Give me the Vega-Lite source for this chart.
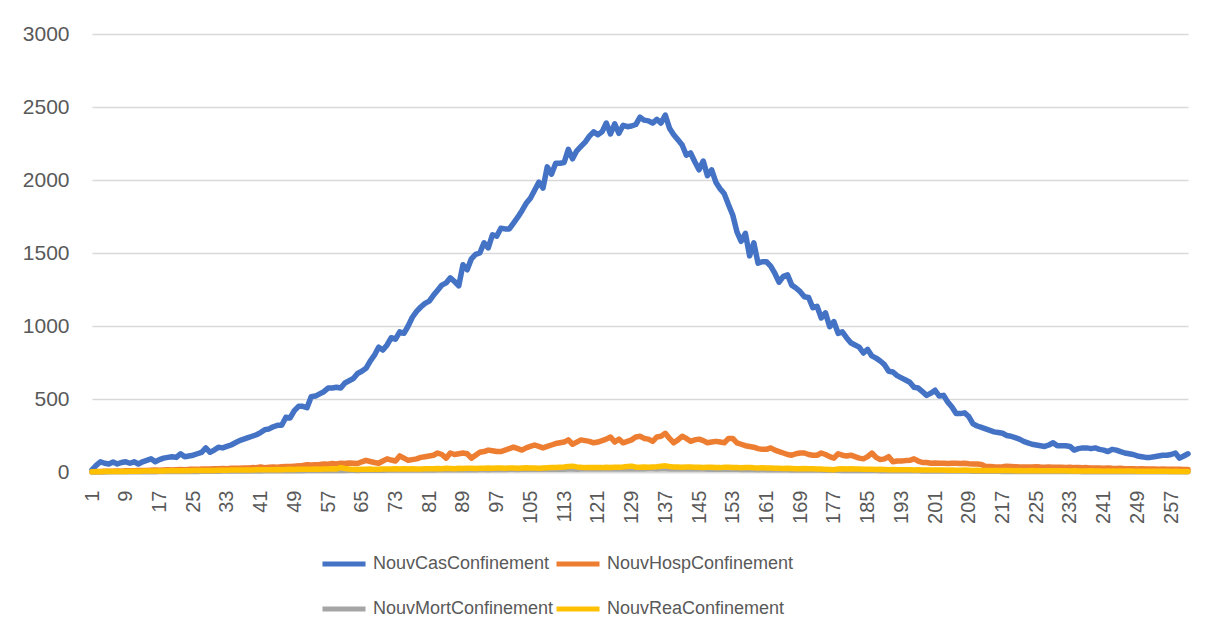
{
"$schema": "https://vega.github.io/schema/vega-lite/v6.json",
"width": 1096,
"height": 438,
"autosize": "none",
"padding": {"left": 92, "top": 34, "right": 27, "bottom": 171},
"background": "white",
"data": {"values": [
{"jour":1,"Cas":14,"Hosp":2,"Mort":0,"Rea":1},
{"jour":2,"Cas":45,"Hosp":3,"Mort":0,"Rea":2},
{"jour":3,"Cas":70,"Hosp":4,"Mort":1,"Rea":2},
{"jour":4,"Cas":60,"Hosp":5,"Mort":0,"Rea":3},
{"jour":5,"Cas":55,"Hosp":5,"Mort":1,"Rea":3},
{"jour":6,"Cas":68,"Hosp":6,"Mort":1,"Rea":3},
{"jour":7,"Cas":55,"Hosp":7,"Mort":1,"Rea":4},
{"jour":8,"Cas":65,"Hosp":6,"Mort":1,"Rea":4},
{"jour":9,"Cas":70,"Hosp":8,"Mort":2,"Rea":4},
{"jour":10,"Cas":60,"Hosp":9,"Mort":1,"Rea":5},
{"jour":11,"Cas":70,"Hosp":9,"Mort":2,"Rea":5},
{"jour":12,"Cas":55,"Hosp":10,"Mort":2,"Rea":5},
{"jour":13,"Cas":70,"Hosp":11,"Mort":2,"Rea":6},
{"jour":14,"Cas":80,"Hosp":10,"Mort":2,"Rea":6},
{"jour":15,"Cas":90,"Hosp":12,"Mort":3,"Rea":6},
{"jour":16,"Cas":70,"Hosp":13,"Mort":2,"Rea":7},
{"jour":17,"Cas":85,"Hosp":12,"Mort":3,"Rea":7},
{"jour":18,"Cas":95,"Hosp":14,"Mort":3,"Rea":7},
{"jour":19,"Cas":100,"Hosp":15,"Mort":3,"Rea":8},
{"jour":20,"Cas":105,"Hosp":14,"Mort":4,"Rea":8},
{"jour":21,"Cas":100,"Hosp":16,"Mort":3,"Rea":8},
{"jour":22,"Cas":125,"Hosp":17,"Mort":4,"Rea":9},
{"jour":23,"Cas":105,"Hosp":16,"Mort":4,"Rea":9},
{"jour":24,"Cas":110,"Hosp":18,"Mort":4,"Rea":9},
{"jour":25,"Cas":115,"Hosp":19,"Mort":5,"Rea":10},
{"jour":26,"Cas":125,"Hosp":18,"Mort":4,"Rea":10},
{"jour":27,"Cas":135,"Hosp":20,"Mort":5,"Rea":10},
{"jour":28,"Cas":165,"Hosp":21,"Mort":5,"Rea":11},
{"jour":29,"Cas":135,"Hosp":20,"Mort":5,"Rea":11},
{"jour":30,"Cas":150,"Hosp":22,"Mort":6,"Rea":11},
{"jour":31,"Cas":170,"Hosp":22,"Mort":5,"Rea":12},
{"jour":32,"Cas":165,"Hosp":24,"Mort":6,"Rea":12},
{"jour":33,"Cas":175,"Hosp":23,"Mort":6,"Rea":12},
{"jour":34,"Cas":185,"Hosp":25,"Mort":6,"Rea":13},
{"jour":35,"Cas":200,"Hosp":26,"Mort":7,"Rea":13},
{"jour":36,"Cas":215,"Hosp":25,"Mort":6,"Rea":13},
{"jour":37,"Cas":225,"Hosp":27,"Mort":7,"Rea":14},
{"jour":38,"Cas":235,"Hosp":28,"Mort":7,"Rea":14},
{"jour":39,"Cas":245,"Hosp":30,"Mort":7,"Rea":14},
{"jour":40,"Cas":255,"Hosp":29,"Mort":8,"Rea":15},
{"jour":41,"Cas":270,"Hosp":35,"Mort":7,"Rea":15},
{"jour":42,"Cas":290,"Hosp":30,"Mort":8,"Rea":16},
{"jour":43,"Cas":295,"Hosp":32,"Mort":8,"Rea":15},
{"jour":44,"Cas":310,"Hosp":34,"Mort":8,"Rea":16},
{"jour":45,"Cas":320,"Hosp":33,"Mort":9,"Rea":17},
{"jour":46,"Cas":320,"Hosp":36,"Mort":8,"Rea":16},
{"jour":47,"Cas":375,"Hosp":38,"Mort":9,"Rea":17},
{"jour":48,"Cas":370,"Hosp":37,"Mort":9,"Rea":18},
{"jour":49,"Cas":420,"Hosp":40,"Mort":9,"Rea":17},
{"jour":50,"Cas":450,"Hosp":42,"Mort":10,"Rea":18},
{"jour":51,"Cas":450,"Hosp":45,"Mort":9,"Rea":19},
{"jour":52,"Cas":440,"Hosp":50,"Mort":10,"Rea":18},
{"jour":53,"Cas":515,"Hosp":48,"Mort":10,"Rea":19},
{"jour":54,"Cas":520,"Hosp":50,"Mort":10,"Rea":20},
{"jour":55,"Cas":535,"Hosp":52,"Mort":11,"Rea":19},
{"jour":56,"Cas":550,"Hosp":55,"Mort":10,"Rea":21},
{"jour":57,"Cas":575,"Hosp":53,"Mort":11,"Rea":20},
{"jour":58,"Cas":575,"Hosp":58,"Mort":11,"Rea":22},
{"jour":59,"Cas":580,"Hosp":55,"Mort":11,"Rea":21},
{"jour":60,"Cas":575,"Hosp":60,"Mort":12,"Rea":30},
{"jour":61,"Cas":610,"Hosp":58,"Mort":11,"Rea":24},
{"jour":62,"Cas":625,"Hosp":62,"Mort":12,"Rea":20},
{"jour":63,"Cas":640,"Hosp":60,"Mort":12,"Rea":18},
{"jour":64,"Cas":675,"Hosp":58,"Mort":11,"Rea":17},
{"jour":65,"Cas":690,"Hosp":70,"Mort":12,"Rea":18},
{"jour":66,"Cas":710,"Hosp":80,"Mort":12,"Rea":19},
{"jour":67,"Cas":760,"Hosp":72,"Mort":13,"Rea":20},
{"jour":68,"Cas":800,"Hosp":65,"Mort":12,"Rea":18},
{"jour":69,"Cas":855,"Hosp":60,"Mort":13,"Rea":19},
{"jour":70,"Cas":835,"Hosp":75,"Mort":12,"Rea":20},
{"jour":71,"Cas":870,"Hosp":90,"Mort":13,"Rea":21},
{"jour":72,"Cas":920,"Hosp":82,"Mort":13,"Rea":20},
{"jour":73,"Cas":910,"Hosp":75,"Mort":13,"Rea":22},
{"jour":74,"Cas":960,"Hosp":110,"Mort":14,"Rea":21},
{"jour":75,"Cas":950,"Hosp":95,"Mort":13,"Rea":23},
{"jour":76,"Cas":1000,"Hosp":80,"Mort":14,"Rea":20},
{"jour":77,"Cas":1060,"Hosp":85,"Mort":14,"Rea":22},
{"jour":78,"Cas":1100,"Hosp":90,"Mort":14,"Rea":21},
{"jour":79,"Cas":1130,"Hosp":100,"Mort":15,"Rea":20},
{"jour":80,"Cas":1155,"Hosp":105,"Mort":14,"Rea":22},
{"jour":81,"Cas":1170,"Hosp":110,"Mort":15,"Rea":22},
{"jour":82,"Cas":1210,"Hosp":115,"Mort":14,"Rea":23},
{"jour":83,"Cas":1245,"Hosp":130,"Mort":15,"Rea":24},
{"jour":84,"Cas":1280,"Hosp":120,"Mort":15,"Rea":22},
{"jour":85,"Cas":1295,"Hosp":95,"Mort":16,"Rea":25},
{"jour":86,"Cas":1330,"Hosp":130,"Mort":15,"Rea":24},
{"jour":87,"Cas":1305,"Hosp":120,"Mort":15,"Rea":23},
{"jour":88,"Cas":1275,"Hosp":125,"Mort":16,"Rea":25},
{"jour":89,"Cas":1420,"Hosp":130,"Mort":16,"Rea":24},
{"jour":90,"Cas":1385,"Hosp":125,"Mort":16,"Rea":26},
{"jour":91,"Cas":1460,"Hosp":95,"Mort":17,"Rea":25},
{"jour":92,"Cas":1490,"Hosp":115,"Mort":16,"Rea":24},
{"jour":93,"Cas":1500,"Hosp":135,"Mort":17,"Rea":26},
{"jour":94,"Cas":1570,"Hosp":140,"Mort":17,"Rea":25},
{"jour":95,"Cas":1535,"Hosp":150,"Mort":16,"Rea":27},
{"jour":96,"Cas":1625,"Hosp":145,"Mort":17,"Rea":26},
{"jour":97,"Cas":1615,"Hosp":140,"Mort":17,"Rea":28},
{"jour":98,"Cas":1670,"Hosp":140,"Mort":18,"Rea":27},
{"jour":99,"Cas":1665,"Hosp":150,"Mort":17,"Rea":26},
{"jour":100,"Cas":1665,"Hosp":160,"Mort":18,"Rea":28},
{"jour":101,"Cas":1705,"Hosp":170,"Mort":18,"Rea":27},
{"jour":102,"Cas":1745,"Hosp":160,"Mort":17,"Rea":26},
{"jour":103,"Cas":1790,"Hosp":150,"Mort":18,"Rea":28},
{"jour":104,"Cas":1840,"Hosp":165,"Mort":18,"Rea":29},
{"jour":105,"Cas":1875,"Hosp":175,"Mort":19,"Rea":27},
{"jour":106,"Cas":1930,"Hosp":185,"Mort":18,"Rea":28},
{"jour":107,"Cas":1985,"Hosp":175,"Mort":19,"Rea":26},
{"jour":108,"Cas":1945,"Hosp":165,"Mort":19,"Rea":28},
{"jour":109,"Cas":2090,"Hosp":175,"Mort":18,"Rea":29},
{"jour":110,"Cas":2040,"Hosp":185,"Mort":19,"Rea":30},
{"jour":111,"Cas":2115,"Hosp":195,"Mort":19,"Rea":31},
{"jour":112,"Cas":2115,"Hosp":200,"Mort":20,"Rea":33},
{"jour":113,"Cas":2120,"Hosp":205,"Mort":19,"Rea":35},
{"jour":114,"Cas":2210,"Hosp":220,"Mort":20,"Rea":38},
{"jour":115,"Cas":2145,"Hosp":190,"Mort":20,"Rea":40},
{"jour":116,"Cas":2200,"Hosp":205,"Mort":19,"Rea":35},
{"jour":117,"Cas":2230,"Hosp":220,"Mort":20,"Rea":32},
{"jour":118,"Cas":2260,"Hosp":215,"Mort":20,"Rea":30},
{"jour":119,"Cas":2300,"Hosp":210,"Mort":21,"Rea":31},
{"jour":120,"Cas":2330,"Hosp":200,"Mort":20,"Rea":30},
{"jour":121,"Cas":2310,"Hosp":205,"Mort":21,"Rea":31},
{"jour":122,"Cas":2330,"Hosp":215,"Mort":20,"Rea":30},
{"jour":123,"Cas":2390,"Hosp":225,"Mort":21,"Rea":32},
{"jour":124,"Cas":2315,"Hosp":240,"Mort":21,"Rea":31},
{"jour":125,"Cas":2385,"Hosp":205,"Mort":20,"Rea":33},
{"jour":126,"Cas":2320,"Hosp":225,"Mort":21,"Rea":32},
{"jour":127,"Cas":2375,"Hosp":200,"Mort":21,"Rea":34},
{"jour":128,"Cas":2365,"Hosp":210,"Mort":22,"Rea":38},
{"jour":129,"Cas":2370,"Hosp":220,"Mort":21,"Rea":40},
{"jour":130,"Cas":2380,"Hosp":240,"Mort":21,"Rea":33},
{"jour":131,"Cas":2430,"Hosp":245,"Mort":22,"Rea":32},
{"jour":132,"Cas":2410,"Hosp":230,"Mort":21,"Rea":34},
{"jour":133,"Cas":2405,"Hosp":225,"Mort":22,"Rea":33},
{"jour":134,"Cas":2390,"Hosp":210,"Mort":22,"Rea":35},
{"jour":135,"Cas":2415,"Hosp":240,"Mort":21,"Rea":36},
{"jour":136,"Cas":2390,"Hosp":245,"Mort":22,"Rea":40},
{"jour":137,"Cas":2445,"Hosp":265,"Mort":22,"Rea":42},
{"jour":138,"Cas":2355,"Hosp":230,"Mort":21,"Rea":38},
{"jour":139,"Cas":2310,"Hosp":200,"Mort":22,"Rea":35},
{"jour":140,"Cas":2275,"Hosp":220,"Mort":21,"Rea":34},
{"jour":141,"Cas":2240,"Hosp":245,"Mort":21,"Rea":33},
{"jour":142,"Cas":2170,"Hosp":230,"Mort":21,"Rea":35},
{"jour":143,"Cas":2185,"Hosp":210,"Mort":20,"Rea":34},
{"jour":144,"Cas":2125,"Hosp":220,"Mort":21,"Rea":33},
{"jour":145,"Cas":2070,"Hosp":225,"Mort":20,"Rea":32},
{"jour":146,"Cas":2130,"Hosp":215,"Mort":20,"Rea":31},
{"jour":147,"Cas":2030,"Hosp":200,"Mort":19,"Rea":32},
{"jour":148,"Cas":2070,"Hosp":205,"Mort":20,"Rea":33},
{"jour":149,"Cas":1985,"Hosp":210,"Mort":19,"Rea":31},
{"jour":150,"Cas":1940,"Hosp":205,"Mort":19,"Rea":30},
{"jour":151,"Cas":1905,"Hosp":200,"Mort":18,"Rea":32},
{"jour":152,"Cas":1830,"Hosp":230,"Mort":19,"Rea":33},
{"jour":153,"Cas":1760,"Hosp":230,"Mort":18,"Rea":31},
{"jour":154,"Cas":1645,"Hosp":200,"Mort":18,"Rea":30},
{"jour":155,"Cas":1580,"Hosp":190,"Mort":17,"Rea":29},
{"jour":156,"Cas":1635,"Hosp":180,"Mort":18,"Rea":30},
{"jour":157,"Cas":1480,"Hosp":175,"Mort":17,"Rea":31},
{"jour":158,"Cas":1570,"Hosp":170,"Mort":17,"Rea":29},
{"jour":159,"Cas":1430,"Hosp":160,"Mort":16,"Rea":28},
{"jour":160,"Cas":1440,"Hosp":155,"Mort":17,"Rea":29},
{"jour":161,"Cas":1440,"Hosp":155,"Mort":16,"Rea":28},
{"jour":162,"Cas":1410,"Hosp":165,"Mort":16,"Rea":27},
{"jour":163,"Cas":1360,"Hosp":150,"Mort":15,"Rea":26},
{"jour":164,"Cas":1300,"Hosp":140,"Mort":16,"Rea":25},
{"jour":165,"Cas":1340,"Hosp":130,"Mort":15,"Rea":24},
{"jour":166,"Cas":1350,"Hosp":120,"Mort":15,"Rea":25},
{"jour":167,"Cas":1280,"Hosp":115,"Mort":14,"Rea":24},
{"jour":168,"Cas":1260,"Hosp":125,"Mort":15,"Rea":23},
{"jour":169,"Cas":1235,"Hosp":130,"Mort":14,"Rea":22},
{"jour":170,"Cas":1200,"Hosp":130,"Mort":14,"Rea":24},
{"jour":171,"Cas":1195,"Hosp":120,"Mort":13,"Rea":23},
{"jour":172,"Cas":1125,"Hosp":115,"Mort":14,"Rea":22},
{"jour":173,"Cas":1135,"Hosp":115,"Mort":13,"Rea":21},
{"jour":174,"Cas":1055,"Hosp":130,"Mort":13,"Rea":20},
{"jour":175,"Cas":1090,"Hosp":120,"Mort":12,"Rea":18},
{"jour":176,"Cas":995,"Hosp":105,"Mort":13,"Rea":17},
{"jour":177,"Cas":1030,"Hosp":95,"Mort":12,"Rea":16},
{"jour":178,"Cas":950,"Hosp":125,"Mort":12,"Rea":20},
{"jour":179,"Cas":960,"Hosp":115,"Mort":11,"Rea":22},
{"jour":180,"Cas":920,"Hosp":110,"Mort":12,"Rea":21},
{"jour":181,"Cas":885,"Hosp":115,"Mort":11,"Rea":22},
{"jour":182,"Cas":870,"Hosp":105,"Mort":11,"Rea":21},
{"jour":183,"Cas":855,"Hosp":95,"Mort":10,"Rea":20},
{"jour":184,"Cas":815,"Hosp":90,"Mort":11,"Rea":19},
{"jour":185,"Cas":840,"Hosp":105,"Mort":10,"Rea":18},
{"jour":186,"Cas":795,"Hosp":130,"Mort":10,"Rea":19},
{"jour":187,"Cas":780,"Hosp":100,"Mort":10,"Rea":17},
{"jour":188,"Cas":760,"Hosp":85,"Mort":9,"Rea":18},
{"jour":189,"Cas":735,"Hosp":90,"Mort":10,"Rea":17},
{"jour":190,"Cas":690,"Hosp":105,"Mort":9,"Rea":16},
{"jour":191,"Cas":685,"Hosp":70,"Mort":9,"Rea":17},
{"jour":192,"Cas":660,"Hosp":75,"Mort":9,"Rea":16},
{"jour":193,"Cas":645,"Hosp":75,"Mort":8,"Rea":15},
{"jour":194,"Cas":630,"Hosp":78,"Mort":9,"Rea":16},
{"jour":195,"Cas":615,"Hosp":80,"Mort":8,"Rea":15},
{"jour":196,"Cas":580,"Hosp":90,"Mort":8,"Rea":14},
{"jour":197,"Cas":575,"Hosp":75,"Mort":8,"Rea":15},
{"jour":198,"Cas":550,"Hosp":65,"Mort":7,"Rea":14},
{"jour":199,"Cas":525,"Hosp":65,"Mort":8,"Rea":13},
{"jour":200,"Cas":540,"Hosp":60,"Mort":7,"Rea":14},
{"jour":201,"Cas":560,"Hosp":62,"Mort":7,"Rea":13},
{"jour":202,"Cas":520,"Hosp":60,"Mort":7,"Rea":14},
{"jour":203,"Cas":525,"Hosp":60,"Mort":7,"Rea":13},
{"jour":204,"Cas":480,"Hosp":58,"Mort":6,"Rea":12},
{"jour":205,"Cas":445,"Hosp":60,"Mort":7,"Rea":13},
{"jour":206,"Cas":400,"Hosp":60,"Mort":6,"Rea":12},
{"jour":207,"Cas":400,"Hosp":58,"Mort":6,"Rea":12},
{"jour":208,"Cas":405,"Hosp":60,"Mort":6,"Rea":13},
{"jour":209,"Cas":380,"Hosp":56,"Mort":6,"Rea":12},
{"jour":210,"Cas":330,"Hosp":55,"Mort":5,"Rea":11},
{"jour":211,"Cas":315,"Hosp":55,"Mort":6,"Rea":12},
{"jour":212,"Cas":305,"Hosp":52,"Mort":5,"Rea":11},
{"jour":213,"Cas":295,"Hosp":38,"Mort":5,"Rea":11},
{"jour":214,"Cas":285,"Hosp":38,"Mort":5,"Rea":10},
{"jour":215,"Cas":275,"Hosp":36,"Mort":5,"Rea":11},
{"jour":216,"Cas":270,"Hosp":35,"Mort":5,"Rea":10},
{"jour":217,"Cas":265,"Hosp":36,"Mort":4,"Rea":10},
{"jour":218,"Cas":250,"Hosp":40,"Mort":5,"Rea":11},
{"jour":219,"Cas":245,"Hosp":38,"Mort":4,"Rea":10},
{"jour":220,"Cas":235,"Hosp":36,"Mort":4,"Rea":9},
{"jour":221,"Cas":225,"Hosp":35,"Mort":4,"Rea":10},
{"jour":222,"Cas":210,"Hosp":35,"Mort":4,"Rea":9},
{"jour":223,"Cas":200,"Hosp":34,"Mort":4,"Rea":9},
{"jour":224,"Cas":190,"Hosp":35,"Mort":4,"Rea":10},
{"jour":225,"Cas":185,"Hosp":36,"Mort":3,"Rea":9},
{"jour":226,"Cas":180,"Hosp":34,"Mort":4,"Rea":9},
{"jour":227,"Cas":175,"Hosp":33,"Mort":3,"Rea":8},
{"jour":228,"Cas":185,"Hosp":35,"Mort":4,"Rea":9},
{"jour":229,"Cas":200,"Hosp":33,"Mort":3,"Rea":8},
{"jour":230,"Cas":180,"Hosp":32,"Mort":3,"Rea":8},
{"jour":231,"Cas":180,"Hosp":32,"Mort":3,"Rea":8},
{"jour":232,"Cas":180,"Hosp":31,"Mort":3,"Rea":8},
{"jour":233,"Cas":175,"Hosp":33,"Mort":3,"Rea":7},
{"jour":234,"Cas":150,"Hosp":30,"Mort":3,"Rea":8},
{"jour":235,"Cas":160,"Hosp":30,"Mort":3,"Rea":7},
{"jour":236,"Cas":165,"Hosp":29,"Mort":2,"Rea":7},
{"jour":237,"Cas":165,"Hosp":30,"Mort":3,"Rea":7},
{"jour":238,"Cas":160,"Hosp":28,"Mort":2,"Rea":8},
{"jour":239,"Cas":165,"Hosp":28,"Mort":3,"Rea":7},
{"jour":240,"Cas":155,"Hosp":27,"Mort":2,"Rea":7},
{"jour":241,"Cas":150,"Hosp":26,"Mort":2,"Rea":6},
{"jour":242,"Cas":140,"Hosp":27,"Mort":2,"Rea":7},
{"jour":243,"Cas":155,"Hosp":25,"Mort":2,"Rea":6},
{"jour":244,"Cas":150,"Hosp":24,"Mort":2,"Rea":6},
{"jour":245,"Cas":140,"Hosp":25,"Mort":2,"Rea":7},
{"jour":246,"Cas":130,"Hosp":23,"Mort":2,"Rea":6},
{"jour":247,"Cas":125,"Hosp":22,"Mort":2,"Rea":6},
{"jour":248,"Cas":120,"Hosp":22,"Mort":2,"Rea":6},
{"jour":249,"Cas":110,"Hosp":21,"Mort":2,"Rea":5},
{"jour":250,"Cas":105,"Hosp":22,"Mort":1,"Rea":6},
{"jour":251,"Cas":100,"Hosp":20,"Mort":2,"Rea":5},
{"jour":252,"Cas":100,"Hosp":21,"Mort":1,"Rea":5},
{"jour":253,"Cas":105,"Hosp":20,"Mort":2,"Rea":6},
{"jour":254,"Cas":110,"Hosp":19,"Mort":1,"Rea":5},
{"jour":255,"Cas":115,"Hosp":20,"Mort":1,"Rea":5},
{"jour":256,"Cas":115,"Hosp":19,"Mort":1,"Rea":5},
{"jour":257,"Cas":120,"Hosp":18,"Mort":1,"Rea":4},
{"jour":258,"Cas":130,"Hosp":19,"Mort":1,"Rea":5},
{"jour":259,"Cas":95,"Hosp":18,"Mort":1,"Rea":4},
{"jour":260,"Cas":110,"Hosp":17,"Mort":1,"Rea":4},
{"jour":261,"Cas":125,"Hosp":17,"Mort":1,"Rea":4}
]},
"transform": [{"fold": ["Cas", "Hosp", "Mort", "Rea"], "as": ["serie", "valeur"]}],
"mark": {"type": "line", "strokeWidth": 5.5, "strokeCap": "round", "strokeJoin": "round"},
"encoding": {
  "x": {"field": "jour", "type": "quantitative",
    "scale": {"domain": [1, 261], "nice": false, "zero": false},
    "axis": {"title": null, "values": [1,9,17,25,33,41,49,57,65,73,81,89,97,105,113,121,129,137,145,153,161,169,177,185,193,201,209,217,225,233,241,249,257],
      "labelAngle": -90, "labelFontSize": 20, "labelColor": "#595959", "labelPadding": 18,
      "ticks": false, "tickSize": 0, "grid": false, "domainColor": "#D9D9D9", "domainWidth": 1.5,
      "labelFlush": false, "labelOverlap": false}},
  "y": {"field": "valeur", "type": "quantitative",
    "scale": {"domain": [0, 3000], "nice": false},
    "axis": {"title": null, "format": "d", "values": [0,500,1000,1500,2000,2500,3000], "domain": false, "ticks": false, "tickSize": 0,
      "gridColor": "#D9D9D9", "gridWidth": 1.5, "labelFontSize": 21, "labelColor": "#595959", "labelPadding": 23}},
  "color": {"field": "serie", "type": "nominal",
    "scale": {"domain": ["Cas", "Hosp", "Mort", "Rea"], "range": ["#4472C4", "#ED7D31", "#A5A5A5", "#FFC000"]},
    "legend": {"title": null, "orient": "none", "legendX": 228, "legendY": 506, "columns": 2, "direction": "horizontal",
      "symbolType": "stroke", "symbolSize": 1849, "symbolStrokeWidth": 5, "labelFontSize": 18, "labelColor": "#595959",
      "labelOffset": 5, "rowPadding": 11, "columnPadding": -10, "labelLimit": 400,
      "labelExpr": "'Nouv' + datum.label + 'Confinement'"}}
},
"config": {"font": "Liberation Sans", "view": {"stroke": null}}
}
